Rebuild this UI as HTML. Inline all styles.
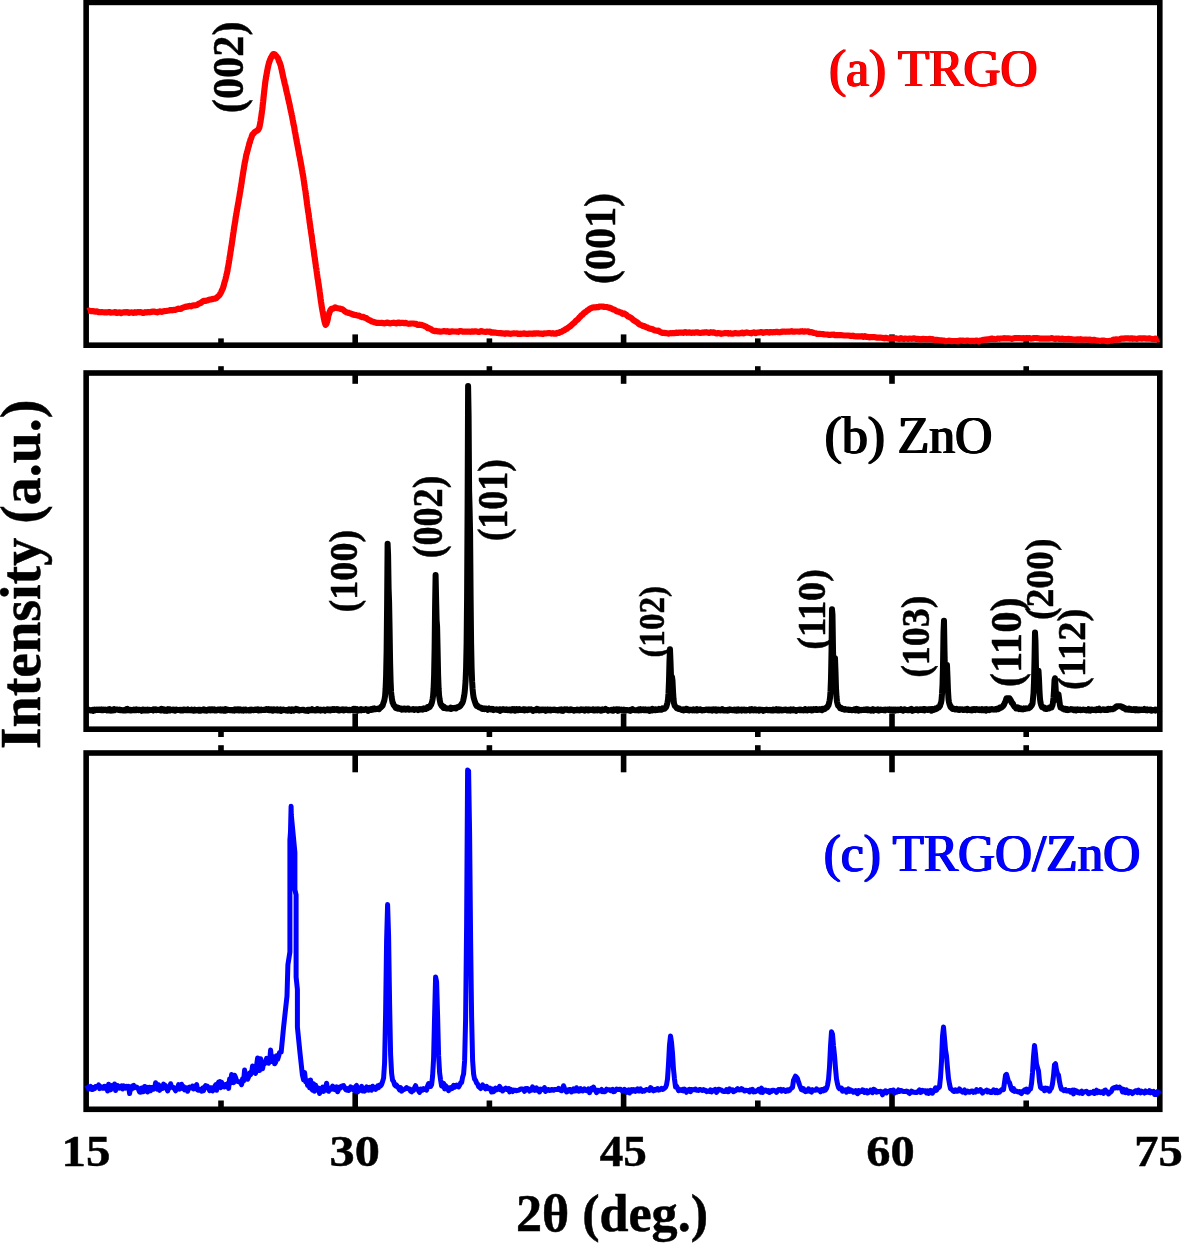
<!DOCTYPE html>
<html><head><meta charset="utf-8"><title>XRD patterns</title>
<style>
html,body{margin:0;padding:0;background:#fff;}
body{width:1182px;height:1243px;overflow:hidden;font-family:"Liberation Serif",serif;}
svg{display:block;will-change:transform;}
</style></head><body>
<svg width="1182" height="1243" viewBox="0 0 1182 1243">
<rect width="1182" height="1243" fill="#fff"/>
<rect x="86.15" y="2.40" width="1073.65" height="342.80" fill="none" stroke="#000" stroke-width="5.6"/>
<rect x="86.15" y="373.00" width="1073.65" height="356.20" fill="none" stroke="#000" stroke-width="5.6"/>
<rect x="86.15" y="753.00" width="1073.65" height="356.30" fill="none" stroke="#000" stroke-width="5.6"/>
<rect x="352.4" y="334.4" width="5.6" height="10.8" fill="#000"/>
<rect x="352.4" y="373.0" width="5.6" height="10.8" fill="#000"/>
<rect x="352.4" y="713.4" width="5.6" height="15.8" fill="#000"/>
<rect x="352.4" y="753.0" width="5.6" height="19.3" fill="#000"/>
<rect x="352.4" y="1092.5" width="5.6" height="16.8" fill="#000"/>
<rect x="620.8" y="334.4" width="5.6" height="10.8" fill="#000"/>
<rect x="620.8" y="373.0" width="5.6" height="10.8" fill="#000"/>
<rect x="620.8" y="713.4" width="5.6" height="15.8" fill="#000"/>
<rect x="620.8" y="753.0" width="5.6" height="19.3" fill="#000"/>
<rect x="620.8" y="1092.5" width="5.6" height="16.8" fill="#000"/>
<rect x="889.2" y="334.4" width="5.6" height="10.8" fill="#000"/>
<rect x="889.2" y="373.0" width="5.6" height="10.8" fill="#000"/>
<rect x="889.2" y="713.4" width="5.6" height="15.8" fill="#000"/>
<rect x="889.2" y="753.0" width="5.6" height="19.3" fill="#000"/>
<rect x="889.2" y="1092.5" width="5.6" height="16.8" fill="#000"/>
<rect x="218.2" y="338.4" width="5.6" height="6.8" fill="#000"/>
<rect x="218.2" y="366.2" width="5.6" height="6.8" fill="#000"/>
<rect x="218.2" y="729.2" width="5.6" height="7.8" fill="#000"/>
<rect x="218.2" y="745.2" width="5.6" height="7.8" fill="#000"/>
<rect x="218.2" y="1100.5" width="5.6" height="8.8" fill="#000"/>
<rect x="486.6" y="338.4" width="5.6" height="6.8" fill="#000"/>
<rect x="486.6" y="366.2" width="5.6" height="6.8" fill="#000"/>
<rect x="486.6" y="729.2" width="5.6" height="7.8" fill="#000"/>
<rect x="486.6" y="745.2" width="5.6" height="7.8" fill="#000"/>
<rect x="486.6" y="1100.5" width="5.6" height="8.8" fill="#000"/>
<rect x="755.0" y="338.4" width="5.6" height="6.8" fill="#000"/>
<rect x="755.0" y="366.2" width="5.6" height="6.8" fill="#000"/>
<rect x="755.0" y="729.2" width="5.6" height="7.8" fill="#000"/>
<rect x="755.0" y="745.2" width="5.6" height="7.8" fill="#000"/>
<rect x="755.0" y="1100.5" width="5.6" height="8.8" fill="#000"/>
<rect x="1023.4" y="338.4" width="5.6" height="6.8" fill="#000"/>
<rect x="1023.4" y="366.2" width="5.6" height="6.8" fill="#000"/>
<rect x="1023.4" y="729.2" width="5.6" height="7.8" fill="#000"/>
<rect x="1023.4" y="745.2" width="5.6" height="7.8" fill="#000"/>
<rect x="1023.4" y="1100.5" width="5.6" height="8.8" fill="#000"/>
<polyline points="87.7,310.9 88.6,310.5 89.8,310.8 91.3,311.1 92.7,311.0 94.2,311.4 95.7,311.6 97.2,311.4 98.7,312.2 100.2,312.2 101.7,312.0 103.2,312.2 104.7,312.4 106.2,312.3 107.7,312.3 109.2,312.0 110.7,312.6 112.2,312.5 113.7,312.5 115.2,312.1 116.7,312.9 118.2,312.6 119.7,312.4 121.2,313.1 122.7,312.6 124.2,312.2 125.7,312.5 127.2,312.0 128.7,312.9 130.2,312.5 131.7,312.4 133.2,312.9 134.7,312.2 136.2,312.7 137.7,312.0 139.2,312.3 140.7,312.1 142.2,312.8 143.7,312.8 145.2,312.2 146.7,312.5 148.2,312.1 149.7,312.3 151.2,311.9 152.7,311.6 154.2,311.5 155.7,311.9 157.2,312.3 158.7,311.7 160.2,311.4 161.7,311.9 163.2,311.3 164.7,311.1 166.2,311.0 167.6,310.7 169.1,310.5 170.6,310.0 172.1,310.3 173.6,309.9 175.1,310.0 176.5,309.4 178.0,308.7 179.4,308.8 180.9,308.8 182.3,307.9 183.8,307.4 185.2,306.9 186.7,306.6 188.2,306.4 189.6,305.9 191.1,306.3 192.6,305.5 194.1,305.3 195.5,305.3 196.9,304.9 198.3,303.9 199.6,303.4 201.0,302.8 202.3,301.8 203.7,300.8 205.1,300.9 206.5,300.6 208.0,300.2 209.5,299.6 210.9,299.5 212.4,299.1 213.8,298.8 215.2,298.6 216.5,297.9 217.7,296.8 218.8,295.8 219.7,294.7 220.5,293.4 221.2,292.1 221.8,290.5 222.4,289.3 222.9,288.4 223.4,286.6 223.9,284.8 224.3,283.3 224.7,281.8 225.1,280.7 225.5,279.2 225.9,277.3 226.2,276.3 226.5,274.6 226.9,273.6 227.2,271.8 227.5,270.8 227.7,268.7 228.0,267.3 228.3,266.0 228.5,264.7 228.8,263.1 229.0,261.2 229.3,260.0 229.5,258.5 229.7,256.9 230.0,255.4 230.2,254.5 230.4,252.5 230.7,250.9 230.9,249.8 231.1,248.2 231.3,246.6 231.6,245.4 231.8,243.8 232.0,242.3 232.2,241.0 232.5,239.3 232.7,237.6 232.9,236.2 233.1,234.6 233.3,233.3 233.6,231.5 233.8,229.9 234.0,228.9 234.2,227.0 234.5,225.4 234.7,224.5 234.9,222.7 235.2,221.6 235.4,219.8 235.6,218.2 235.9,216.7 236.1,215.4 236.4,214.0 236.6,212.3 236.9,211.0 237.1,209.2 237.4,208.1 237.6,206.2 237.9,205.1 238.1,203.8 238.4,202.5 238.6,201.1 238.9,198.8 239.1,197.9 239.4,196.6 239.6,195.0 239.9,193.1 240.1,191.9 240.4,190.8 240.6,188.5 240.9,187.5 241.1,186.2 241.3,184.3 241.6,183.1 241.8,181.2 242.0,179.8 242.2,178.3 242.5,177.1 242.7,175.5 242.9,174.3 243.2,172.3 243.4,171.1 243.6,169.8 243.9,168.3 244.1,166.3 244.4,165.3 244.6,163.6 244.9,162.3 245.2,160.8 245.5,159.6 245.8,157.8 246.1,155.9 246.4,154.5 246.8,153.6 247.1,151.9 247.5,150.8 247.9,149.1 248.3,147.4 248.7,146.4 249.1,144.5 249.5,142.7 249.9,142.3 250.4,139.8 250.9,138.9 251.4,137.5 251.9,135.9 252.6,134.2 253.4,133.8 254.5,132.2 255.6,131.4 256.8,130.8 257.8,130.2 258.6,129.0 259.2,128.0 259.6,126.3 259.9,124.9 260.2,123.1 260.5,121.8 260.7,120.4 260.9,118.6 261.2,117.3 261.4,115.5 261.6,114.0 261.8,112.7 262.0,111.2 262.2,109.9 262.4,108.3 262.6,107.2 262.7,105.2 262.9,103.7 263.1,102.0 263.2,100.8 263.4,99.4 263.5,97.6 263.7,96.3 263.8,95.0 264.0,93.3 264.2,91.7 264.3,90.5 264.5,88.8 264.7,87.4 264.8,86.1 265.0,84.6 265.2,82.8 265.4,81.2 265.6,80.0 265.9,78.4 266.1,76.5 266.4,75.8 266.6,74.0 266.9,72.7 267.2,70.7 267.4,69.8 267.8,67.8 268.1,66.5 268.5,64.7 268.8,63.6 269.3,62.1 269.7,60.7 270.3,59.4 270.9,57.8 271.7,56.6 272.5,55.0 273.3,54.1 274.2,54.1 275.1,54.7 276.0,55.7 276.9,56.9 277.7,57.7 278.5,59.7 279.1,61.5 279.7,62.6 280.1,63.8 280.6,65.4 281.0,66.6 281.3,68.4 281.7,69.7 282.0,71.5 282.3,72.8 282.6,74.0 282.9,75.8 283.3,77.4 283.6,78.5 283.9,80.0 284.2,81.0 284.6,83.3 284.9,84.4 285.3,85.4 285.6,87.0 286.0,88.8 286.3,90.5 286.7,91.8 287.0,93.4 287.3,94.4 287.7,95.9 288.0,97.9 288.3,99.2 288.7,100.6 289.0,102.4 289.3,103.3 289.7,104.9 290.0,106.7 290.3,108.4 290.6,109.4 290.9,111.3 291.2,112.1 291.5,113.9 291.8,115.2 292.1,116.3 292.4,118.2 292.7,119.9 293.0,121.1 293.2,122.6 293.5,124.4 293.8,125.2 294.1,126.6 294.4,128.3 294.6,129.7 294.9,131.8 295.2,133.0 295.5,134.2 295.7,135.7 296.0,138.1 296.3,138.7 296.5,140.1 296.8,141.8 297.1,143.4 297.4,144.8 297.6,146.0 297.9,147.4 298.2,149.3 298.5,150.6 298.7,151.7 299.0,153.9 299.3,155.2 299.6,156.5 299.9,157.9 300.1,159.5 300.4,160.8 300.7,162.1 300.9,164.0 301.2,165.0 301.5,166.9 301.7,168.0 302.0,169.8 302.3,171.2 302.5,173.2 302.8,174.0 303.0,175.4 303.3,177.0 303.5,178.4 303.7,180.0 304.0,181.7 304.2,183.3 304.4,185.0 304.6,185.9 304.9,188.2 305.1,189.5 305.3,190.5 305.5,191.4 305.7,193.5 305.9,195.0 306.1,195.9 306.3,198.0 306.5,199.4 306.7,200.7 306.9,202.6 307.1,204.2 307.3,205.3 307.5,206.9 307.7,208.2 307.9,209.7 308.1,211.4 308.4,213.0 308.6,214.2 308.8,215.2 309.0,217.4 309.2,218.4 309.4,220.3 309.6,222.2 309.8,223.2 310.0,224.4 310.2,225.8 310.4,228.0 310.7,229.2 310.9,230.8 311.1,232.4 311.3,233.6 311.5,235.0 311.7,236.4 311.9,237.3 312.1,239.2 312.3,241.0 312.5,242.5 312.8,244.1 313.0,245.5 313.2,247.0 313.4,248.7 313.6,249.7 313.8,251.4 314.0,252.5 314.2,254.7 314.4,255.9 314.7,257.5 314.9,259.3 315.1,260.6 315.3,261.8 315.5,263.5 315.7,264.5 315.9,266.4 316.1,267.8 316.4,268.9 316.6,271.1 316.8,272.1 317.0,273.9 317.2,275.1 317.4,276.9 317.6,278.5 317.9,279.4 318.1,280.8 318.3,282.6 318.5,284.3 318.7,285.5 319.0,286.9 319.2,288.7 319.4,289.4 319.6,291.4 319.8,292.7 320.0,294.6 320.2,295.8 320.4,297.2 320.6,298.9 320.8,300.1 321.0,301.9 321.3,303.3 321.5,304.8 321.7,306.2 322.0,308.1 322.2,309.3 322.5,311.0 322.8,312.5 323.1,313.8 323.4,315.8 323.7,317.6 324.1,319.3 324.4,320.9 324.8,322.3 325.2,323.8 325.6,324.8 326.0,324.1 326.4,324.1 326.7,322.9 327.1,321.9 327.5,320.2 327.9,318.6 328.3,315.8 328.8,314.6 329.3,312.8 329.9,311.4 330.6,309.9 331.4,309.0 332.4,308.6 333.7,308.6 335.1,307.3 336.6,308.0 338.1,308.3 339.5,308.5 340.9,308.9 342.2,309.3 343.6,310.1 344.9,311.4 346.2,312.2 347.6,312.6 349.0,312.9 350.4,313.6 351.8,314.0 353.3,314.6 354.7,314.9 356.2,315.1 357.7,315.6 359.1,315.7 360.6,316.6 362.0,317.1 363.4,316.9 364.9,317.8 366.3,318.1 367.6,319.3 369.0,320.0 370.3,320.4 371.7,321.5 373.1,321.8 374.4,322.2 375.8,322.6 377.2,322.9 378.7,322.9 380.1,323.0 381.6,322.8 383.1,323.2 384.6,323.3 386.1,322.9 387.6,322.6 389.1,323.2 390.6,323.3 392.1,323.0 393.7,322.7 395.2,323.1 396.7,323.4 398.2,322.5 399.7,323.1 401.2,322.9 402.7,322.8 404.2,323.2 405.7,322.9 407.3,323.4 408.8,323.8 410.3,323.6 411.8,323.5 413.3,323.5 414.8,323.8 416.2,323.9 417.7,324.9 419.2,324.7 420.6,324.8 422.1,325.1 423.5,325.6 424.9,326.3 426.3,326.7 427.7,328.1 429.1,328.2 430.5,328.9 431.8,329.8 433.2,330.7 434.6,331.1 436.1,330.9 437.5,331.3 438.9,331.4 440.4,331.6 441.8,331.5 443.3,331.2 444.8,331.2 446.2,331.6 447.7,331.2 449.2,331.9 450.7,331.6 452.2,331.3 453.7,331.5 455.2,331.5 456.7,331.6 458.2,331.8 459.7,331.2 461.2,331.1 462.7,331.7 464.3,331.6 465.8,331.7 467.3,331.7 468.8,331.6 470.3,331.8 471.8,331.4 473.4,331.7 474.9,331.4 476.4,331.4 477.9,331.8 479.4,331.8 480.9,331.2 482.5,331.4 484.0,331.8 485.5,332.0 487.0,331.6 488.5,331.8 490.0,331.6 491.5,332.7 492.9,332.3 494.4,332.6 495.9,332.7 497.4,333.0 498.9,333.1 500.4,333.0 501.9,333.5 503.4,333.4 504.9,333.8 506.4,333.3 507.9,333.4 509.4,333.7 510.9,333.8 512.4,333.5 513.9,333.3 515.4,333.5 516.9,333.4 518.4,334.0 520.0,333.7 521.5,333.8 523.0,333.6 524.5,333.4 526.0,333.8 527.5,333.9 529.1,333.6 530.6,333.5 532.1,333.8 533.6,333.4 535.1,333.7 536.6,333.3 538.1,333.3 539.6,333.6 541.1,333.6 542.6,334.0 544.1,333.4 545.6,333.5 547.1,333.2 548.5,333.0 550.0,333.1 551.5,333.6 552.9,333.2 554.4,333.7 555.8,333.6 557.3,332.9 558.7,332.9 560.2,332.1 561.6,331.7 563.0,330.7 564.3,330.3 565.6,329.2 566.8,328.8 568.1,327.7 569.2,326.9 570.4,326.1 571.6,325.0 572.7,323.9 573.8,323.1 575.0,322.1 576.1,320.5 577.2,320.0 578.3,318.9 579.4,317.5 580.4,316.7 581.5,315.2 582.6,314.8 583.6,313.4 584.8,312.4 585.9,311.9 587.2,310.6 588.4,310.0 589.7,308.8 591.1,308.2 592.5,307.5 593.9,307.3 595.3,307.4 596.8,307.0 598.3,307.1 599.8,306.5 601.3,306.5 602.8,306.6 604.3,306.9 605.8,307.0 607.2,307.1 608.6,307.6 610.0,307.9 611.5,308.5 612.9,309.4 614.2,309.6 615.6,310.4 617.0,311.4 618.4,311.6 619.8,312.3 621.2,312.6 622.6,313.8 624.0,313.4 625.3,314.3 626.6,315.0 627.9,316.4 629.2,316.9 630.4,317.6 631.6,318.2 632.8,319.6 634.0,320.4 635.2,321.2 636.4,321.9 637.7,322.8 638.9,324.0 640.2,324.7 641.5,325.3 642.8,325.9 644.2,326.1 645.6,327.1 647.0,327.3 648.4,328.1 649.9,328.7 651.3,328.9 652.8,329.3 654.2,330.2 655.6,330.5 657.1,330.8 658.5,330.7 660.0,331.9 661.4,332.5 662.9,333.0 664.3,332.9 665.8,333.1 667.3,333.3 668.7,333.6 670.2,333.1 671.7,333.3 673.2,333.0 674.7,333.2 676.2,332.6 677.7,333.0 679.2,332.6 680.7,332.6 682.2,332.7 683.7,332.8 685.2,332.1 686.7,332.8 688.2,332.6 689.7,332.4 691.2,332.9 692.7,332.5 694.2,332.8 695.7,332.4 697.2,332.3 698.7,332.8 700.2,333.0 701.7,332.7 703.2,332.7 704.7,332.4 706.2,332.2 707.7,332.5 709.2,332.9 710.7,332.2 712.2,332.6 713.7,332.4 715.2,333.0 716.7,333.4 718.2,333.0 719.7,333.3 721.2,333.8 722.7,333.5 724.2,333.2 725.7,333.2 727.2,333.0 728.7,333.6 730.2,333.2 731.7,333.7 733.2,333.6 734.7,333.2 736.2,333.2 737.7,333.5 739.2,333.3 740.7,333.2 742.2,332.7 743.7,333.3 745.2,332.8 746.7,332.4 748.2,332.8 749.7,333.0 751.2,333.3 752.7,332.7 754.2,332.4 755.7,333.2 757.2,332.6 758.7,332.5 760.2,332.2 761.7,332.2 763.2,332.8 764.7,332.3 766.2,332.2 767.7,332.1 769.2,332.6 770.7,332.0 772.2,332.3 773.7,332.2 775.2,332.1 776.7,331.8 778.2,332.1 779.7,332.3 781.2,331.9 782.7,331.6 784.2,331.5 785.7,331.8 787.2,331.6 788.7,331.6 790.2,331.6 791.7,331.2 793.2,331.7 794.7,331.6 796.2,331.5 797.7,331.5 799.2,331.7 800.7,331.4 802.2,331.2 803.6,331.7 805.1,331.4 806.6,331.5 808.1,331.4 809.6,332.1 811.1,332.1 812.5,332.5 814.0,333.0 815.5,333.2 817.0,333.8 818.5,333.8 819.9,333.9 821.4,334.0 822.9,334.1 824.4,334.5 825.9,334.5 827.4,334.5 828.9,334.9 830.4,334.8 831.9,334.7 833.4,334.5 834.9,335.1 836.4,335.1 837.9,335.2 839.4,335.1 840.9,335.1 842.4,335.3 843.9,335.5 845.4,335.5 846.9,335.5 848.4,335.5 849.9,335.8 851.4,335.9 852.9,335.7 854.4,336.2 855.9,336.3 857.4,336.4 858.9,336.3 860.4,336.4 861.9,336.2 863.4,336.8 864.9,336.2 866.4,336.8 867.9,336.9 869.3,337.3 870.8,337.2 872.3,337.1 873.8,337.0 875.3,337.3 876.8,337.6 878.3,337.7 879.8,337.7 881.3,337.7 882.8,337.9 884.3,338.3 885.8,337.8 887.3,338.2 888.8,338.6 890.3,338.4 891.8,338.2 893.3,338.5 894.8,338.2 896.3,338.4 897.8,338.8 899.3,339.0 900.8,338.1 902.3,338.7 903.8,339.1 905.3,338.5 906.8,338.7 908.3,339.0 909.8,338.6 911.3,338.8 912.8,338.7 914.3,338.3 915.8,338.9 917.3,338.8 918.8,339.1 920.3,339.4 921.8,339.1 923.3,338.9 924.8,339.2 926.3,339.1 927.8,339.4 929.3,338.9 930.8,339.1 932.3,339.0 933.8,339.8 935.3,339.8 936.8,339.9 938.3,340.1 939.7,340.3 941.2,340.4 942.7,340.6 944.2,340.7 945.7,341.2 947.2,341.0 948.7,340.7 950.2,340.8 951.7,341.2 953.2,341.0 954.7,341.0 956.2,341.1 957.7,341.3 959.3,340.6 960.8,340.7 962.3,340.5 963.8,341.0 965.3,340.8 966.8,340.7 968.3,340.7 969.8,341.1 971.3,340.9 972.8,340.8 974.3,341.2 975.8,340.6 977.2,340.6 978.7,341.5 980.2,340.6 981.7,340.3 983.1,339.9 984.6,339.7 986.0,339.6 987.5,339.4 989.0,339.2 990.4,338.9 991.9,338.5 993.4,338.9 994.9,339.2 996.4,339.0 997.9,338.6 999.4,338.8 1000.9,338.5 1002.4,338.5 1003.9,338.2 1005.4,338.3 1006.9,338.4 1008.4,338.3 1009.9,338.5 1011.4,338.8 1013.0,338.6 1014.5,338.2 1016.0,338.1 1017.5,338.1 1019.0,338.0 1020.5,338.2 1022.0,338.3 1023.5,338.2 1025.0,338.3 1026.5,338.2 1028.0,338.2 1029.5,338.0 1031.0,338.7 1032.5,338.5 1034.0,338.0 1035.5,338.0 1037.0,338.1 1038.5,338.3 1040.0,338.6 1041.5,338.6 1043.0,338.6 1044.5,338.7 1046.0,338.7 1047.5,338.6 1049.0,338.6 1050.5,338.5 1052.0,338.1 1053.5,338.6 1055.0,339.1 1056.5,338.5 1058.0,338.5 1059.5,339.0 1061.0,338.8 1062.5,338.7 1064.0,339.3 1065.5,339.1 1067.0,339.2 1068.5,338.9 1070.0,339.2 1071.5,339.2 1073.0,339.4 1074.5,339.5 1076.0,339.6 1077.5,339.4 1079.0,339.6 1080.5,339.2 1082.0,339.7 1083.5,339.7 1085.0,339.5 1086.5,339.5 1088.0,339.7 1089.5,339.5 1091.0,340.0 1092.5,340.1 1094.0,339.8 1095.5,340.2 1097.0,340.6 1098.5,340.7 1100.0,340.9 1101.4,340.7 1102.9,340.7 1104.4,340.7 1105.9,341.0 1107.4,341.3 1108.9,341.0 1110.4,340.8 1111.9,340.6 1113.4,339.6 1114.9,339.7 1116.3,339.4 1117.8,339.6 1119.3,339.5 1120.8,338.7 1122.3,338.7 1123.8,338.7 1125.3,338.4 1126.8,338.4 1128.3,338.3 1129.8,338.7 1131.3,338.3 1132.8,338.8 1134.3,338.5 1135.8,338.7 1137.3,338.9 1138.8,338.4 1140.3,338.4 1141.8,338.7 1143.3,338.3 1144.8,338.4 1146.3,338.6 1147.8,338.7 1149.3,338.4 1150.8,338.7 1152.3,339.0 1153.8,339.2 1155.3,338.5 1156.8,339.4 1158.0,339.3 1158.9,338.9" fill="none" stroke="#f00" stroke-width="6.2" stroke-linejoin="round" stroke-linecap="butt"/>
<polyline points="86.6,709.5 87.1,710.1 87.6,709.8 88.1,710.0 88.6,710.3 89.1,709.9 89.6,710.1 90.1,710.2 90.6,710.3 91.1,710.6 91.6,710.6 92.1,710.1 92.6,709.9 93.1,710.8 93.6,710.2 94.1,710.1 94.6,709.6 95.1,710.3 95.6,709.7 96.1,709.8 96.6,709.5 97.1,709.8 97.6,710.0 98.1,709.5 98.6,709.7 99.1,710.0 99.6,709.6 100.1,709.6 100.6,709.7 101.1,709.5 101.6,710.2 102.1,709.6 102.6,710.3 103.1,710.3 103.6,709.6 104.1,710.0 104.6,709.8 105.1,709.6 105.6,709.9 106.1,709.9 106.6,710.2 107.1,710.4 107.6,709.6 108.1,709.9 108.6,710.2 109.1,710.4 109.6,709.1 110.1,710.4 110.6,709.9 111.1,710.5 111.6,709.8 112.1,709.7 112.6,710.0 113.1,710.4 113.6,710.0 114.1,709.2 114.6,710.2 115.1,709.4 115.6,709.7 116.1,709.6 116.6,709.4 117.1,709.6 117.6,709.6 118.1,709.8 118.6,710.0 119.1,709.9 119.6,709.5 120.1,709.9 120.6,710.3 121.1,710.3 121.6,710.0 122.1,710.2 122.6,710.3 123.1,710.5 123.6,710.6 124.1,709.9 124.6,709.9 125.1,710.5 125.6,710.5 126.1,710.5 126.6,709.2 127.1,709.9 127.6,708.9 128.1,710.2 128.6,710.0 129.1,710.0 129.6,709.9 130.1,710.4 130.6,709.9 131.1,710.4 131.6,710.2 132.1,710.1 132.6,710.2 133.1,710.0 133.6,709.6 134.1,710.2 134.6,710.2 135.1,709.9 135.6,710.2 136.1,710.3 136.6,709.5 137.1,709.9 137.6,709.8 138.1,709.7 138.6,710.1 139.1,709.7 139.6,709.8 140.1,710.1 140.6,710.1 141.1,710.1 141.6,710.8 142.1,709.8 142.6,710.1 143.1,709.6 143.6,710.2 144.1,710.4 144.6,710.4 145.1,709.8 145.6,709.9 146.1,710.4 146.6,710.0 147.1,710.3 147.6,709.7 148.1,710.5 148.6,710.4 149.1,710.2 149.6,709.7 150.1,709.9 150.6,710.0 151.1,710.1 151.6,710.0 152.1,709.9 152.6,710.1 153.1,710.5 153.6,709.3 154.1,709.5 154.6,709.5 155.1,709.8 155.6,709.4 156.1,710.2 156.6,710.0 157.1,709.9 157.6,709.8 158.1,710.0 158.6,710.1 159.1,710.1 159.6,709.7 160.1,710.2 160.6,709.5 161.1,710.4 161.6,708.9 162.1,709.8 162.6,709.6 163.1,710.3 163.6,709.5 164.1,710.6 164.6,709.5 165.1,710.7 165.6,710.1 166.1,710.0 166.6,710.1 167.1,710.8 167.6,710.3 168.1,709.2 168.6,710.4 169.1,710.1 169.6,709.4 170.1,710.3 170.6,709.6 171.1,710.1 171.6,710.1 172.1,709.8 172.6,710.2 173.1,709.6 173.6,710.1 174.1,709.8 174.6,709.9 175.1,710.7 175.6,710.0 176.1,709.6 176.6,709.9 177.1,709.7 177.6,710.0 178.1,710.0 178.6,710.0 179.1,710.0 179.6,709.8 180.1,710.1 180.6,710.4 181.1,709.8 181.6,710.0 182.1,710.0 182.6,710.4 183.1,710.4 183.6,709.7 184.1,710.0 184.6,709.5 185.1,709.7 185.6,710.0 186.1,710.2 186.6,710.3 187.1,709.9 187.6,709.5 188.1,710.1 188.6,709.9 189.1,710.1 189.6,710.0 190.1,710.2 190.6,710.2 191.1,710.3 191.6,709.8 192.1,710.3 192.6,709.8 193.1,710.0 193.6,710.6 194.1,710.1 194.6,709.6 195.1,710.5 195.6,710.3 196.1,710.4 196.6,710.1 197.1,710.1 197.6,709.9 198.1,709.7 198.6,710.5 199.1,709.9 199.6,709.8 200.1,709.8 200.6,710.6 201.1,710.3 201.6,709.9 202.1,710.0 202.6,710.2 203.1,710.3 203.6,709.4 204.1,710.3 204.6,709.9 205.1,709.7 205.6,709.9 206.1,710.3 206.6,710.6 207.1,710.0 207.6,710.2 208.1,709.7 208.6,710.2 209.1,710.3 209.6,709.5 210.1,709.8 210.6,710.3 211.1,709.4 211.6,709.9 212.1,710.2 212.6,709.4 213.1,709.8 213.6,710.0 214.1,710.3 214.6,709.5 215.1,710.4 215.6,710.1 216.1,710.4 216.6,710.4 217.1,710.1 217.6,710.2 218.1,709.4 218.6,709.5 219.1,709.6 219.6,709.9 220.1,710.3 220.6,709.4 221.1,709.9 221.6,709.5 222.1,709.4 222.6,710.5 223.1,710.0 223.6,710.6 224.1,710.4 224.6,709.7 225.1,709.3 225.6,710.7 226.1,709.8 226.6,709.6 227.1,710.2 227.6,710.0 228.1,709.8 228.6,709.9 229.1,710.0 229.6,710.0 230.1,710.2 230.6,709.9 231.1,709.9 231.6,710.2 232.1,710.1 232.6,710.4 233.1,709.9 233.6,710.0 234.1,709.6 234.6,710.5 235.1,709.5 235.6,710.1 236.1,709.7 236.6,710.1 237.1,710.2 237.6,709.4 238.1,709.9 238.6,709.4 239.1,710.5 239.6,709.8 240.1,709.4 240.6,709.7 241.1,710.4 241.6,710.5 242.1,710.4 242.6,709.7 243.1,709.9 243.6,710.6 244.1,709.7 244.6,709.9 245.1,709.6 245.6,709.6 246.1,710.4 246.6,710.2 247.1,710.1 247.6,710.2 248.1,710.3 248.6,710.5 249.1,710.0 249.6,709.9 250.1,709.6 250.6,710.4 251.1,709.8 251.6,709.5 252.1,709.9 252.6,710.0 253.1,710.3 253.6,710.3 254.1,709.7 254.6,709.7 255.1,709.9 255.6,709.6 256.1,709.9 256.6,710.1 257.1,710.0 257.6,709.4 258.1,709.6 258.6,710.4 259.1,709.6 259.6,710.2 260.1,710.2 260.6,709.9 261.1,709.6 261.6,710.1 262.1,709.7 262.6,709.9 263.1,710.0 263.6,709.7 264.1,709.9 264.6,709.9 265.1,709.5 265.6,709.9 266.1,709.8 266.6,709.3 267.1,709.9 267.6,709.9 268.1,709.8 268.6,709.3 269.1,710.2 269.6,710.2 270.1,710.2 270.6,710.1 271.1,709.5 271.6,710.0 272.1,709.7 272.6,710.7 273.1,709.8 273.6,710.2 274.1,709.4 274.6,709.6 275.1,709.8 275.6,710.2 276.1,710.2 276.6,710.1 277.1,709.3 277.6,710.4 278.1,709.7 278.6,710.5 279.1,710.6 279.6,710.3 280.1,710.3 280.6,709.5 281.1,710.9 281.6,710.0 282.1,710.3 282.6,709.7 283.1,709.9 283.6,709.6 284.1,709.9 284.6,710.0 285.1,710.1 285.6,710.5 286.1,710.1 286.6,710.1 287.1,710.0 287.6,710.7 288.1,709.8 288.6,710.4 289.1,709.3 289.6,709.7 290.1,710.1 290.6,709.9 291.1,711.0 291.6,710.9 292.1,709.4 292.6,709.6 293.1,709.9 293.6,710.6 294.1,710.4 294.6,710.1 295.1,709.5 295.6,709.7 296.1,709.0 296.6,709.4 297.1,710.1 297.6,710.2 298.1,709.5 298.6,710.0 299.1,710.5 299.6,710.0 300.1,709.9 300.6,710.2 301.1,710.1 301.6,710.0 302.1,709.8 302.6,709.8 303.1,710.0 303.6,709.8 304.1,710.4 304.6,710.3 305.1,710.3 305.6,710.7 306.1,710.5 306.6,710.5 307.1,710.1 307.6,709.9 308.1,710.8 308.6,709.7 309.1,709.7 309.6,709.7 310.1,710.0 310.6,710.1 311.1,710.3 311.6,709.9 312.1,709.3 312.6,710.1 313.1,710.3 313.6,710.0 314.1,709.9 314.6,710.2 315.1,710.5 315.6,709.9 316.1,709.5 316.6,709.8 317.1,709.9 317.6,709.3 318.1,710.2 318.6,709.7 319.1,710.1 319.6,710.0 320.1,709.8 320.6,710.5 321.1,709.7 321.6,709.7 322.1,710.0 322.6,710.2 323.1,709.9 323.6,709.6 324.1,710.2 324.6,710.2 325.1,710.7 325.6,709.9 326.1,710.0 326.6,709.7 327.1,709.4 327.6,710.0 328.1,710.2 328.6,709.6 329.1,709.7 329.6,709.5 330.1,710.4 330.6,709.7 331.1,710.1 331.6,709.6 332.1,710.0 332.6,709.7 333.1,709.1 333.6,710.0 334.1,710.1 334.6,709.2 335.1,709.9 335.6,709.8 336.1,709.5 336.6,709.8 337.1,709.2 337.6,710.0 338.1,710.3 338.6,709.5 339.1,709.9 339.6,710.4 340.1,709.9 340.6,709.7 341.1,709.6 341.6,710.0 342.1,709.9 342.6,710.1 343.1,709.4 343.6,710.3 344.1,709.8 344.6,710.1 345.1,709.6 345.6,709.4 346.1,709.7 346.6,709.5 347.1,709.7 347.6,710.1 348.1,710.3 348.6,709.9 349.1,709.7 349.6,709.7 350.1,710.1 350.6,710.3 351.1,709.7 351.6,709.8 352.1,709.6 352.6,709.9 353.1,710.2 353.6,708.8 354.1,709.9 354.6,709.6 355.1,709.0 355.6,709.9 356.1,709.8 356.6,709.9 357.1,709.3 357.6,710.6 358.1,709.8 358.6,709.7 359.1,710.3 359.6,710.0 360.1,710.1 360.6,710.2 361.1,709.0 361.6,710.3 362.1,709.6 362.6,709.8 363.1,710.0 363.6,709.5 364.1,709.8 364.6,710.0 365.1,709.7 365.6,709.8 366.1,709.1 366.6,709.2 367.1,709.2 367.6,709.7 368.1,710.9 368.6,709.7 369.1,709.5 369.6,709.5 370.1,709.9 370.6,709.7 371.1,709.1 371.6,709.8 372.1,709.4 372.6,709.6 373.1,708.6 373.6,708.7 374.1,709.4 374.6,708.5 375.1,709.2 375.6,709.2 376.1,709.0 376.6,709.0 377.1,708.9 377.6,708.8 378.1,708.4 378.6,708.4 379.1,709.2 379.6,708.4 380.1,708.0 380.6,707.6 381.1,706.8 381.6,706.7 382.1,706.0 382.6,705.7 383.1,704.0 383.6,702.3 384.1,701.1 384.6,698.9 385.1,695.6 385.6,688.5 386.1,675.7 386.6,651.7 387.1,605.2 387.6,543.7 388.1,555.2 388.6,588.4 389.1,602.0 389.6,629.9 390.1,662.1 390.6,681.4 391.1,692.0 391.6,696.8 392.1,699.9 392.6,702.6 393.1,703.2 393.6,705.1 394.1,705.4 394.6,706.1 395.1,706.9 395.6,707.8 396.1,707.3 396.6,708.2 397.1,708.2 397.6,707.8 398.1,708.7 398.6,708.2 399.1,708.1 399.6,708.5 400.1,708.6 400.6,709.1 401.1,708.7 401.6,709.6 402.1,709.2 402.6,708.9 403.1,708.9 403.6,709.3 404.1,708.5 404.6,708.5 405.1,709.0 405.6,709.6 406.1,709.4 406.6,709.4 407.1,709.3 407.6,708.6 408.1,709.3 408.6,708.8 409.1,709.7 409.6,709.4 410.1,709.4 410.6,709.6 411.1,709.6 411.6,709.5 412.1,709.6 412.6,709.2 413.1,709.0 413.6,709.6 414.1,710.0 414.6,709.8 415.1,709.4 415.6,709.6 416.1,709.3 416.6,709.5 417.1,709.2 417.6,709.4 418.1,710.1 418.6,709.6 419.1,709.8 419.6,709.0 420.1,709.0 420.6,709.2 421.1,709.4 421.6,709.1 422.1,709.5 422.6,708.9 423.1,709.5 423.6,709.3 424.1,708.5 424.6,709.0 425.1,708.7 425.6,709.0 426.1,708.4 426.6,708.5 427.1,708.5 427.6,707.1 428.1,707.2 428.6,707.6 429.1,707.2 429.6,707.2 430.1,706.4 430.6,705.2 431.1,704.9 431.6,703.3 432.1,701.8 432.6,699.2 433.1,695.6 433.6,688.3 434.1,675.4 434.6,648.9 435.1,605.3 435.6,575.0 436.1,598.9 436.6,620.2 437.1,626.5 437.6,649.8 438.1,674.5 438.6,688.3 439.1,695.6 439.6,699.3 440.1,702.0 440.6,704.1 441.1,704.8 441.6,705.8 442.1,705.6 442.6,706.9 443.1,707.2 443.6,707.9 444.1,706.7 444.6,707.9 445.1,708.0 445.6,708.2 446.1,708.0 446.6,708.4 447.1,708.6 447.6,708.5 448.1,708.4 448.6,708.4 449.1,708.4 449.6,708.6 450.1,708.3 450.6,707.8 451.1,709.0 451.6,707.9 452.1,708.4 452.6,708.0 453.1,708.3 453.6,708.0 454.1,708.3 454.6,707.9 455.1,707.7 455.6,708.1 456.1,708.4 456.6,707.9 457.1,707.6 457.6,707.1 458.1,707.2 458.6,707.1 459.1,706.5 459.6,706.7 460.1,705.9 460.6,705.6 461.1,704.7 461.6,704.0 462.1,703.4 462.6,702.4 463.1,700.9 463.6,698.6 464.1,696.2 464.6,692.9 465.1,687.2 465.6,680.5 466.1,667.5 466.6,643.7 467.1,596.0 467.6,505.9 468.1,386.0 468.6,415.7 469.1,490.6 469.6,509.3 470.1,533.1 470.6,595.9 471.1,642.8 471.6,667.9 472.1,681.2 472.6,689.0 473.1,694.0 473.6,697.3 474.1,699.2 474.6,700.8 475.1,702.3 475.6,703.8 476.1,704.8 476.6,705.8 477.1,705.3 477.6,706.2 478.1,706.5 478.6,706.8 479.1,707.3 479.6,707.4 480.1,707.6 480.6,707.6 481.1,708.2 481.6,708.5 482.1,708.9 482.6,708.2 483.1,708.2 483.6,708.5 484.1,708.4 484.6,709.1 485.1,708.6 485.6,708.9 486.1,708.5 486.6,708.9 487.1,709.1 487.6,709.7 488.1,708.9 488.6,709.3 489.1,708.5 489.6,708.8 490.1,709.0 490.6,709.2 491.1,709.5 491.6,709.6 492.1,708.8 492.6,709.6 493.1,709.1 493.6,710.1 494.1,709.6 494.6,709.6 495.1,709.5 495.6,709.5 496.1,709.6 496.6,709.3 497.1,709.8 497.6,709.7 498.1,709.9 498.6,709.6 499.1,709.9 499.6,709.4 500.1,710.9 500.6,709.4 501.1,709.5 501.6,710.0 502.1,710.1 502.6,709.4 503.1,709.1 503.6,709.2 504.1,709.4 504.6,709.4 505.1,709.7 505.6,710.1 506.1,710.1 506.6,709.5 507.1,709.9 507.6,710.1 508.1,710.2 508.6,709.7 509.1,709.5 509.6,710.0 510.1,710.3 510.6,709.6 511.1,710.5 511.6,710.4 512.0,709.7 512.5,709.2 513.0,709.6 513.5,709.7 514.0,710.0 514.5,709.2 515.0,710.7 515.5,710.6 516.0,709.6 516.5,709.2 517.0,709.8 517.5,710.0 518.0,710.3 518.5,710.1 519.0,709.8 519.5,709.1 520.0,710.0 520.5,710.1 521.0,709.7 521.5,709.9 522.0,709.9 522.5,709.8 523.0,709.4 523.5,710.0 524.0,709.4 524.5,710.3 525.0,709.5 525.5,710.0 526.0,709.6 526.5,710.0 527.0,709.8 527.5,710.1 528.0,709.6 528.5,709.3 529.0,709.8 529.5,709.7 530.0,709.3 530.5,709.6 531.0,709.3 531.5,709.9 532.0,709.7 532.5,709.9 533.0,710.8 533.5,709.9 534.0,710.0 534.5,710.1 535.0,709.8 535.5,709.7 536.0,710.2 536.5,710.2 537.0,708.9 537.5,709.8 538.0,709.8 538.5,709.7 539.0,710.3 539.5,709.7 540.0,710.2 540.5,709.7 541.0,709.8 541.5,710.2 542.0,709.6 542.5,709.8 543.0,709.5 543.5,709.6 544.0,710.2 544.5,710.1 545.0,709.5 545.5,709.5 546.0,710.8 546.5,709.7 547.0,709.6 547.5,710.1 548.0,709.6 548.5,709.8 549.0,710.2 549.5,710.3 550.0,709.8 550.5,710.4 551.0,709.9 551.5,709.8 552.0,709.9 552.5,709.8 553.0,710.1 553.5,710.0 554.0,709.6 554.5,710.0 555.0,709.7 555.5,709.7 556.0,709.9 556.5,710.3 557.0,710.0 557.5,710.4 558.0,710.5 558.5,709.9 559.0,709.7 559.5,709.6 560.0,710.0 560.5,710.2 561.0,710.5 561.5,709.5 562.0,710.2 562.5,710.3 563.0,710.8 563.5,710.0 564.0,709.9 564.5,709.4 565.0,709.7 565.5,709.5 566.0,709.6 566.5,709.6 567.0,709.4 567.5,709.9 568.0,710.1 568.5,710.2 569.0,709.9 569.5,710.3 570.0,710.3 570.5,709.4 571.0,709.8 571.5,709.5 572.0,709.6 572.5,710.0 573.0,709.9 573.5,710.4 574.0,710.6 574.5,710.1 575.0,709.9 575.5,709.9 576.0,709.9 576.5,710.1 577.0,709.7 577.5,710.1 578.0,709.8 578.5,710.3 579.0,710.4 579.5,710.5 580.0,709.9 580.5,709.5 581.0,709.3 581.5,709.8 582.0,709.4 582.5,709.4 583.0,709.8 583.5,709.6 584.0,710.2 584.5,710.6 585.0,709.9 585.5,710.0 586.0,709.4 586.5,710.0 587.0,709.7 587.5,709.6 588.0,709.3 588.5,710.5 589.0,709.4 589.5,709.5 590.0,709.9 590.5,710.0 591.0,710.0 591.5,710.0 592.0,709.6 592.5,710.2 593.0,710.0 593.5,709.4 594.0,710.5 594.5,709.8 595.0,710.3 595.5,709.4 596.0,709.5 596.5,709.7 597.0,709.7 597.5,710.3 598.0,709.4 598.5,710.0 599.0,709.6 599.5,710.1 600.0,710.0 600.5,709.8 601.0,710.7 601.5,709.9 602.0,710.3 602.5,709.5 603.0,709.9 603.5,710.0 604.0,710.0 604.5,709.8 605.0,709.7 605.5,708.9 606.0,709.7 606.5,709.6 607.0,709.9 607.5,710.2 608.0,710.7 608.5,710.1 609.0,710.3 609.5,710.2 610.0,710.2 610.5,710.2 611.0,709.9 611.5,709.8 612.0,710.1 612.5,710.6 613.0,710.2 613.5,710.5 614.0,709.5 614.5,710.0 615.0,710.1 615.5,710.1 616.0,709.5 616.5,709.3 617.0,709.2 617.5,709.8 618.0,710.8 618.5,710.0 619.0,709.5 619.5,710.1 620.0,709.8 620.5,710.0 621.0,709.8 621.5,709.5 622.0,709.8 622.5,710.2 623.0,710.1 623.5,710.4 624.0,709.6 624.5,710.3 625.0,710.0 625.5,710.0 626.0,710.4 626.5,709.9 627.0,710.0 627.5,710.2 628.0,710.2 628.5,710.2 629.0,710.4 629.5,710.1 630.0,709.8 630.5,710.8 631.0,709.9 631.5,710.1 632.0,709.7 632.5,709.2 633.0,709.7 633.5,710.0 634.0,710.1 634.5,710.0 635.0,710.2 635.5,710.3 636.0,710.3 636.5,709.9 637.0,710.0 637.5,709.9 638.0,709.6 638.5,710.4 639.0,709.5 639.5,709.9 640.0,710.0 640.5,709.2 641.0,710.2 641.5,709.8 642.0,710.0 642.5,709.8 643.0,709.4 643.5,710.0 644.0,709.9 644.5,710.3 645.0,710.1 645.5,709.3 646.0,710.3 646.5,710.2 647.0,710.2 647.5,710.1 648.0,709.6 648.5,710.1 649.0,709.7 649.5,710.9 650.0,709.8 650.5,709.5 651.0,709.7 651.5,710.3 652.0,709.6 652.5,709.0 653.0,710.3 653.5,709.9 654.0,709.6 654.5,710.0 655.0,709.4 655.5,709.3 656.0,710.0 656.5,709.5 657.0,709.8 657.5,709.6 658.0,709.9 658.5,709.6 659.0,708.8 659.5,709.7 660.0,709.3 660.5,709.7 661.0,709.4 661.5,709.7 662.0,709.0 662.5,708.3 663.0,708.8 663.5,708.9 664.0,708.4 664.5,708.1 665.0,708.5 665.5,707.5 666.0,707.3 666.5,706.1 667.0,704.3 667.5,702.5 668.0,699.4 668.5,693.2 669.0,680.4 669.5,660.2 670.0,649.3 670.5,661.6 671.0,675.8 671.5,679.2 672.0,676.9 672.5,680.6 673.0,690.9 673.5,698.6 674.0,703.2 674.5,705.1 675.0,706.1 675.5,706.5 676.0,707.0 676.5,707.9 677.0,708.3 677.5,708.0 678.0,708.3 678.5,708.9 679.0,708.3 679.5,708.6 680.0,709.2 680.5,709.5 681.0,709.5 681.5,709.8 682.0,710.1 682.5,709.9 683.0,709.5 683.5,710.4 684.0,710.2 684.5,710.0 685.0,709.4 685.5,709.9 686.0,709.0 686.5,709.6 687.0,708.9 687.5,709.6 688.0,710.2 688.5,709.8 689.0,710.4 689.5,709.8 690.0,709.9 690.5,709.7 691.0,710.0 691.5,709.8 692.0,710.3 692.5,710.4 693.0,710.0 693.5,709.5 694.0,710.1 694.5,710.4 695.0,710.1 695.5,710.0 696.0,710.2 696.5,710.4 697.0,709.0 697.5,710.4 698.0,710.2 698.5,710.1 699.0,709.7 699.5,710.0 700.0,710.1 700.5,709.4 701.0,710.2 701.5,710.0 702.0,710.5 702.5,710.2 703.0,709.9 703.5,710.0 704.0,710.2 704.5,710.0 705.0,710.1 705.5,709.7 706.0,709.5 706.5,709.8 707.0,709.5 707.5,709.7 708.0,710.1 708.5,709.4 709.0,709.5 709.5,710.2 710.0,709.8 710.5,710.0 711.0,709.5 711.5,709.6 712.0,709.9 712.5,710.5 713.0,710.1 713.5,709.4 714.0,710.1 714.5,710.3 715.0,710.2 715.5,709.5 716.0,709.9 716.5,710.7 717.0,709.6 717.5,710.1 718.0,709.7 718.5,709.5 719.0,709.8 719.5,710.3 720.0,710.4 720.5,709.7 721.0,709.8 721.5,709.7 722.0,709.3 722.5,710.2 723.0,710.5 723.5,710.5 724.0,709.8 724.5,710.4 725.0,710.4 725.5,709.9 726.0,710.0 726.5,709.9 727.0,710.1 727.5,710.6 728.0,709.7 728.5,709.6 729.0,710.3 729.5,710.0 730.0,709.3 730.5,709.6 731.0,709.7 731.5,709.8 732.0,710.1 732.5,710.3 733.0,709.9 733.5,710.0 734.0,709.7 734.5,710.3 735.0,710.5 735.5,709.9 736.0,709.7 736.5,710.7 737.0,710.3 737.5,709.7 738.0,709.4 738.5,709.9 739.0,710.4 739.5,709.8 740.0,709.9 740.5,709.8 741.0,710.2 741.5,710.5 742.0,709.6 742.5,709.9 743.0,709.9 743.5,709.8 744.0,709.6 744.5,710.3 745.0,710.0 745.5,710.2 746.0,710.5 746.5,709.9 747.0,710.2 747.5,709.9 748.0,710.0 748.5,710.1 749.0,709.9 749.5,709.5 750.0,710.5 750.5,710.0 751.0,709.6 751.5,709.2 752.0,710.0 752.5,710.2 753.0,710.3 753.5,710.4 754.0,709.9 754.5,710.2 755.0,709.5 755.5,710.0 756.0,710.3 756.5,709.8 757.0,709.9 757.5,710.0 758.0,710.0 758.5,710.5 759.0,709.6 759.5,710.5 760.0,709.6 760.5,709.8 761.0,709.7 761.5,710.0 762.0,709.8 762.5,710.2 763.0,710.0 763.5,710.8 764.0,710.1 764.5,709.9 765.0,710.1 765.5,710.2 766.0,709.9 766.5,709.6 767.0,709.7 767.5,710.1 768.0,710.3 768.5,710.2 769.0,710.0 769.5,710.2 770.0,709.8 770.5,710.1 771.0,710.5 771.5,710.4 772.0,710.5 772.5,709.9 773.0,710.1 773.5,709.6 774.0,710.3 774.5,709.8 775.0,709.5 775.5,709.8 776.0,710.1 776.5,709.2 777.0,709.5 777.5,710.3 778.0,710.0 778.5,710.0 779.0,709.4 779.5,710.5 780.0,710.3 780.5,710.2 781.0,709.6 781.5,710.2 782.0,710.4 782.5,709.9 783.0,709.9 783.5,709.8 784.0,710.2 784.5,709.9 785.0,709.9 785.5,709.5 786.0,709.4 786.5,710.3 787.0,710.5 787.5,710.3 788.0,710.5 788.5,709.8 789.0,709.9 789.5,710.1 790.0,709.9 790.5,710.5 791.0,709.5 791.5,709.8 792.0,709.8 792.5,709.7 793.0,710.2 793.5,709.3 794.0,710.3 794.5,710.3 795.0,710.1 795.5,710.4 796.0,710.8 796.5,710.0 797.0,710.2 797.5,710.1 798.0,710.1 798.5,709.8 799.0,709.7 799.5,710.1 800.0,709.7 800.5,710.3 801.0,710.2 801.5,709.8 802.0,710.0 802.5,709.9 803.0,709.9 803.5,710.3 804.0,709.9 804.5,710.0 805.0,709.2 805.5,710.1 806.0,709.4 806.5,709.8 807.0,710.4 807.5,710.5 808.0,709.7 808.5,709.4 809.0,710.0 809.5,709.7 810.0,710.0 810.5,709.4 811.0,710.2 811.5,710.4 812.0,709.3 812.5,709.5 813.0,709.5 813.5,710.0 814.0,709.1 814.5,709.8 815.0,709.7 815.5,709.4 816.0,709.9 816.5,709.0 817.0,709.2 817.5,709.4 818.0,709.9 818.5,709.5 819.0,709.3 819.5,709.7 820.0,709.3 820.5,709.2 821.0,709.3 821.5,709.4 822.0,710.2 822.5,708.8 823.0,709.2 823.5,708.9 824.0,708.8 824.5,709.2 825.0,708.8 825.5,708.6 826.0,707.9 826.5,707.4 827.0,707.4 827.5,706.7 828.0,705.8 828.5,705.3 829.0,703.2 829.5,701.1 830.0,698.1 830.5,691.2 831.0,678.4 831.5,652.1 832.0,609.3 832.5,615.0 833.0,648.9 833.5,669.9 834.0,674.3 834.5,666.2 835.0,658.2 835.5,671.3 836.0,688.0 836.5,696.6 837.0,701.6 837.5,703.7 838.0,705.6 838.5,705.9 839.0,706.5 839.5,707.0 840.0,708.1 840.5,707.5 841.0,707.8 841.5,708.1 842.0,708.9 842.5,709.1 843.0,708.8 843.5,709.4 844.0,709.3 844.5,709.7 845.0,709.7 845.5,709.2 846.0,709.5 846.5,709.4 847.0,709.7 847.5,709.6 848.0,709.6 848.5,709.9 849.0,709.7 849.5,709.9 850.0,709.7 850.5,709.7 851.0,710.1 851.5,710.1 852.0,710.2 852.5,710.0 853.0,709.7 853.5,709.9 854.0,709.9 854.5,709.2 855.0,709.4 855.5,710.4 856.0,709.8 856.5,708.9 857.0,709.8 857.5,709.9 858.0,709.5 858.5,710.7 859.0,710.3 859.5,710.2 860.0,709.8 860.5,710.1 861.0,710.2 861.5,710.1 862.0,709.7 862.5,710.0 863.0,710.0 863.5,710.0 864.0,709.6 864.5,710.0 865.0,709.9 865.5,710.0 866.0,710.0 866.5,709.4 867.0,710.2 867.5,710.2 868.0,709.5 868.5,709.9 869.0,709.7 869.5,709.8 870.0,710.3 870.5,710.1 871.0,710.6 871.5,710.0 872.0,709.6 872.5,710.0 873.0,709.1 873.5,710.6 874.0,710.0 874.5,710.1 875.0,710.0 875.5,709.7 876.0,709.9 876.5,709.7 877.0,709.8 877.5,710.1 878.0,709.5 878.5,710.5 879.0,709.6 879.5,710.2 880.0,709.7 880.5,709.5 881.0,710.1 881.5,710.0 882.0,709.9 882.5,709.9 883.0,709.7 883.5,710.1 884.0,709.8 884.5,709.9 885.0,710.3 885.5,709.5 886.0,709.7 886.5,709.7 887.0,709.7 887.5,709.5 888.0,709.8 888.5,710.0 889.0,709.9 889.5,709.4 890.0,710.2 890.5,710.2 891.0,710.0 891.5,709.6 892.0,709.6 892.5,710.6 893.0,710.5 893.5,710.1 894.0,709.6 894.5,710.4 895.0,710.0 895.5,710.5 896.0,709.7 896.5,710.1 897.0,709.8 897.5,710.2 898.0,709.7 898.5,710.2 899.0,709.8 899.5,709.6 900.0,710.1 900.5,710.0 901.0,709.2 901.5,709.9 902.0,710.0 902.5,710.0 903.0,710.6 903.5,709.7 904.0,709.9 904.5,709.3 905.0,709.4 905.5,709.7 906.0,709.9 906.5,709.8 907.0,710.1 907.5,710.2 908.0,710.3 908.5,709.8 909.0,710.1 909.5,709.6 910.0,710.0 910.5,710.1 911.0,709.7 911.5,708.8 912.0,709.7 912.5,710.8 913.0,709.8 913.5,709.7 914.0,709.9 914.5,710.3 915.0,710.0 915.5,709.8 916.0,709.4 916.5,709.8 917.0,709.4 917.5,710.0 918.0,710.4 918.5,710.2 919.0,709.6 919.5,709.5 920.0,709.3 920.5,710.0 921.0,710.0 921.5,710.1 922.0,709.9 922.5,709.4 923.0,709.1 923.5,710.2 924.0,709.5 924.5,710.4 925.0,709.0 925.5,709.3 926.0,709.4 926.5,709.8 927.0,709.9 927.5,709.5 928.0,709.9 928.5,709.2 929.0,709.4 929.5,709.2 930.0,709.4 930.5,709.3 931.0,709.6 931.5,710.7 932.0,709.0 932.5,709.3 933.0,709.6 933.5,709.3 934.0,709.7 934.5,708.8 935.0,709.3 935.5,708.7 936.0,709.1 936.5,708.7 937.0,708.6 937.5,708.1 938.0,707.3 938.5,707.3 939.0,707.4 939.5,706.5 940.0,706.0 940.5,704.1 941.0,703.0 941.5,700.3 942.0,694.0 942.5,684.8 943.0,665.1 943.5,632.3 944.0,620.7 944.5,650.4 945.0,674.1 945.5,683.1 946.0,681.7 946.5,671.7 947.0,665.0 947.5,677.3 948.0,690.8 948.5,699.0 949.0,702.3 949.5,704.2 950.0,705.5 950.5,706.9 951.0,706.5 951.5,707.9 952.0,708.3 952.5,708.8 953.0,708.4 953.5,708.4 954.0,708.9 954.5,709.0 955.0,709.5 955.5,709.2 956.0,709.1 956.5,708.8 957.0,709.3 957.5,709.4 958.0,709.8 958.5,709.5 959.0,710.0 959.5,710.0 960.0,709.3 960.5,709.2 961.0,709.4 961.5,709.5 962.0,709.3 962.5,709.9 963.0,709.9 963.5,710.1 964.0,709.8 964.5,709.5 965.0,709.8 965.5,709.4 966.0,709.8 966.5,709.5 967.0,710.1 967.5,708.8 968.0,710.0 968.5,710.1 969.0,709.7 969.5,709.9 970.0,709.8 970.5,710.2 971.0,710.3 971.5,709.8 972.0,710.3 972.5,709.5 973.0,709.9 973.5,709.9 974.0,709.3 974.5,709.9 975.0,709.5 975.5,710.0 976.0,709.4 976.5,709.1 977.0,709.3 977.5,709.8 978.0,709.9 978.5,709.9 979.0,709.5 979.5,710.0 980.0,709.5 980.5,709.7 981.0,710.1 981.5,709.7 982.0,709.1 982.5,710.0 983.0,709.7 983.5,709.6 984.0,710.1 984.5,709.5 985.0,709.9 985.5,709.7 986.0,710.6 986.5,709.0 987.0,709.7 987.5,709.7 988.0,710.0 988.5,709.4 989.0,709.4 989.5,710.0 990.0,709.4 990.5,709.6 991.0,709.5 991.5,709.6 992.0,709.0 992.5,709.2 993.0,709.4 993.5,709.4 994.0,709.7 994.5,709.4 995.0,709.4 995.5,709.1 996.0,709.5 996.5,708.8 997.0,708.9 997.5,708.4 998.0,708.4 998.5,709.0 999.0,708.5 999.5,707.7 1000.0,708.2 1000.5,707.9 1001.0,707.3 1001.5,707.5 1002.0,706.9 1002.5,706.6 1003.0,706.3 1003.5,705.1 1004.0,704.8 1004.5,703.4 1005.0,702.2 1005.5,701.5 1006.0,699.8 1006.5,698.3 1007.0,698.3 1007.5,698.3 1008.0,698.3 1008.5,698.3 1009.0,698.3 1009.5,698.3 1010.0,699.0 1010.5,700.4 1011.0,700.5 1011.5,702.6 1012.0,702.4 1012.5,703.8 1013.0,703.7 1013.5,705.4 1014.0,705.8 1014.5,706.7 1015.0,707.1 1015.5,707.2 1016.0,708.4 1016.5,708.2 1017.0,707.8 1017.5,708.4 1018.0,707.4 1018.5,708.3 1019.0,709.0 1019.5,708.5 1020.0,708.8 1020.5,708.4 1021.0,709.1 1021.5,708.9 1022.0,708.9 1022.5,709.2 1023.0,709.5 1023.5,709.2 1024.0,708.3 1024.5,709.0 1025.0,709.0 1025.5,708.4 1026.0,708.2 1026.5,708.6 1027.0,708.5 1027.5,708.5 1028.0,708.2 1028.5,708.3 1029.0,708.2 1029.5,707.7 1030.0,707.6 1030.5,706.9 1031.0,705.9 1031.5,705.7 1032.0,704.8 1032.5,703.6 1033.0,698.8 1033.5,693.6 1034.0,681.8 1034.5,659.8 1035.0,632.5 1035.5,641.7 1036.0,668.6 1036.5,684.0 1037.0,690.1 1037.5,689.3 1038.0,680.7 1038.5,670.7 1039.0,679.2 1039.5,691.0 1040.0,699.0 1040.5,702.6 1041.0,704.6 1041.5,705.8 1042.0,707.0 1042.5,707.0 1043.0,707.3 1043.5,707.8 1044.0,708.2 1044.5,707.6 1045.0,708.7 1045.5,708.3 1046.0,708.9 1046.5,709.1 1047.0,708.8 1047.5,708.8 1048.0,708.5 1048.5,708.3 1049.0,707.8 1049.5,708.3 1050.0,708.0 1050.5,707.1 1051.0,707.6 1051.5,707.5 1052.0,706.3 1052.5,705.2 1053.0,702.3 1053.5,697.7 1054.0,690.5 1054.5,680.3 1055.0,678.2 1055.5,686.1 1056.0,694.2 1056.5,698.3 1057.0,699.6 1057.5,697.8 1058.0,694.6 1058.5,694.3 1059.0,697.8 1059.5,701.9 1060.0,705.5 1060.5,707.4 1061.0,707.2 1061.5,707.7 1062.0,707.9 1062.5,708.6 1063.0,708.9 1063.5,708.9 1064.0,709.4 1064.5,708.9 1065.0,709.1 1065.5,708.9 1066.0,709.9 1066.5,709.8 1067.0,709.9 1067.5,709.2 1068.0,710.0 1068.5,709.7 1069.0,709.9 1069.5,709.8 1070.0,709.5 1070.5,709.6 1071.0,709.1 1071.5,709.5 1072.0,709.6 1072.5,709.3 1073.0,709.8 1073.5,710.2 1074.0,709.6 1074.5,709.4 1075.0,709.5 1075.5,709.8 1076.0,710.4 1076.5,709.8 1077.0,709.8 1077.5,709.4 1078.0,709.9 1078.5,710.0 1079.0,709.7 1079.5,709.8 1080.0,709.6 1080.5,710.1 1081.0,710.3 1081.5,710.0 1082.0,710.0 1082.5,709.9 1083.0,709.6 1083.5,709.6 1084.0,709.7 1084.5,709.9 1085.0,709.8 1085.5,710.2 1086.0,710.1 1086.5,710.4 1087.0,710.1 1087.5,709.8 1088.0,709.9 1088.5,709.3 1089.0,710.4 1089.5,709.6 1090.0,709.7 1090.5,710.5 1091.0,709.5 1091.5,709.6 1092.0,709.8 1092.5,709.6 1093.0,709.9 1093.5,709.9 1094.0,710.1 1094.5,709.8 1095.0,710.1 1095.5,709.7 1096.0,710.1 1096.5,710.2 1097.0,709.2 1097.5,709.8 1098.0,709.9 1098.5,709.2 1099.0,708.8 1099.5,709.9 1100.0,709.6 1100.5,710.1 1101.0,709.8 1101.5,709.8 1102.0,709.7 1102.5,709.8 1103.0,709.4 1103.5,709.6 1104.0,710.0 1104.5,709.6 1105.0,709.9 1105.5,709.7 1106.0,709.6 1106.5,709.3 1107.0,709.9 1107.5,709.3 1108.0,709.7 1108.5,709.0 1109.0,709.6 1109.5,709.6 1110.0,709.2 1110.5,708.8 1111.0,709.2 1111.5,709.2 1112.0,708.9 1112.5,708.7 1113.0,709.1 1113.5,708.6 1114.0,708.2 1114.5,708.4 1115.0,707.7 1115.5,707.1 1116.0,707.2 1116.5,706.3 1117.0,706.3 1117.5,706.3 1118.0,706.3 1118.5,706.3 1119.0,706.3 1119.5,706.3 1120.0,706.3 1120.5,706.3 1121.0,706.3 1121.5,706.6 1122.0,706.7 1122.5,707.7 1123.0,707.1 1123.5,708.0 1124.0,707.7 1124.5,708.5 1125.0,709.0 1125.5,708.4 1126.0,709.5 1126.5,708.7 1127.0,708.9 1127.5,709.4 1128.0,709.0 1128.5,709.8 1129.0,709.6 1129.5,708.6 1130.0,709.1 1130.5,709.3 1131.0,709.8 1131.5,709.3 1132.0,709.4 1132.5,709.9 1133.0,709.4 1133.5,709.8 1134.0,709.3 1134.5,710.1 1135.0,710.3 1135.5,709.4 1136.0,709.0 1136.5,709.2 1137.0,710.2 1137.5,709.6 1138.0,710.2 1138.5,709.4 1139.0,709.5 1139.5,709.8 1140.0,710.2 1140.5,709.8 1141.0,709.5 1141.5,710.0 1142.0,709.9 1142.5,710.1 1143.0,709.8 1143.5,709.7 1144.0,709.9 1144.5,709.0 1145.0,710.0 1145.5,710.3 1146.0,710.1 1146.5,709.6 1147.0,709.4 1147.5,710.4 1148.0,709.7 1148.5,709.8 1149.0,710.0 1149.5,709.7 1150.0,709.9 1150.5,710.4 1151.0,709.8 1151.5,710.6 1152.0,710.1 1152.5,710.0 1153.0,710.3 1153.5,710.2 1154.0,710.3 1154.5,710.1 1155.0,709.7 1155.5,710.5 1156.0,709.9 1156.5,709.7 1157.0,710.2 1157.5,710.2 1158.0,709.9 1158.5,710.0 1159.0,710.1 1159.5,710.6 1160.0,709.9" fill="none" stroke="#000" stroke-width="6.0" stroke-linejoin="round"/>
<polyline points="86.6,1085.1 87.6,1086.7 88.6,1089.1 89.6,1087.5 90.6,1086.5 91.6,1089.6 92.6,1089.6 93.6,1087.5 94.6,1088.6 95.6,1086.5 96.6,1086.6 97.6,1087.2 98.6,1084.9 99.6,1088.7 100.6,1087.8 101.6,1086.9 102.6,1088.2 103.6,1088.3 104.6,1086.3 105.6,1086.7 106.6,1086.2 107.6,1091.0 108.6,1084.3 109.6,1087.8 110.6,1089.8 111.6,1085.6 112.6,1085.9 113.6,1085.8 114.6,1084.0 115.6,1090.5 116.6,1087.4 117.6,1085.5 118.6,1086.5 119.6,1088.2 120.6,1087.1 121.6,1085.9 122.6,1089.0 123.6,1085.9 124.6,1087.0 125.6,1088.2 126.6,1086.3 127.6,1088.0 128.6,1086.4 129.6,1093.6 130.6,1087.0 131.6,1089.3 132.6,1086.0 133.6,1085.4 134.6,1087.6 135.6,1087.1 136.6,1087.1 137.6,1087.8 138.6,1089.7 139.6,1092.0 140.6,1092.2 141.6,1088.0 142.6,1091.8 143.6,1091.5 144.6,1086.5 145.6,1086.8 146.6,1087.6 147.6,1092.0 148.6,1087.5 149.6,1087.3 150.6,1090.8 151.6,1087.4 152.6,1087.5 153.6,1089.1 154.6,1088.2 155.6,1082.7 156.6,1085.2 157.6,1089.3 158.6,1084.8 159.6,1090.4 160.6,1087.7 161.6,1088.3 162.6,1088.4 163.6,1084.1 164.6,1086.3 165.6,1085.6 166.6,1088.3 167.6,1091.0 168.6,1087.4 169.6,1088.0 170.6,1083.8 171.6,1087.1 172.6,1087.3 173.6,1087.5 174.6,1089.1 175.6,1090.8 176.6,1087.8 177.6,1088.7 178.6,1084.6 179.6,1089.1 180.6,1087.9 181.6,1084.2 182.6,1088.5 183.6,1086.5 184.6,1089.9 185.6,1088.8 186.6,1088.0 187.6,1091.3 188.6,1087.5 189.6,1087.1 190.6,1087.8 191.6,1088.0 192.6,1086.0 193.6,1088.9 194.6,1088.5 195.6,1086.6 196.6,1084.5 197.6,1090.0 198.6,1090.2 199.6,1089.4 200.6,1089.5 201.6,1091.1 202.6,1088.1 203.6,1090.7 204.6,1087.1 205.6,1085.6 206.6,1087.3 207.6,1086.5 208.6,1088.1 209.6,1090.6 210.6,1087.7 211.6,1088.9 212.6,1090.9 213.6,1090.1 214.6,1086.6 215.6,1084.9 216.6,1090.3 217.6,1083.8 218.6,1082.2 219.6,1081.6 220.6,1087.7 221.6,1082.3 222.6,1084.4 223.6,1084.4 224.6,1087.0 225.6,1084.5 226.6,1085.8 227.6,1083.6 228.6,1088.4 229.6,1078.9 230.6,1083.0 231.6,1074.5 232.6,1081.5 233.6,1082.7 234.6,1075.3 235.6,1077.6 236.6,1080.6 237.6,1081.6 238.6,1081.4 239.6,1082.1 240.6,1082.5 241.6,1084.7 242.6,1078.7 243.6,1080.9 244.6,1070.1 245.6,1076.4 246.6,1078.2 247.6,1079.2 248.6,1076.9 249.6,1073.1 250.6,1074.6 251.6,1072.6 252.6,1065.9 253.6,1071.2 254.6,1070.6 255.6,1073.3 256.6,1065.2 257.6,1058.0 258.6,1062.1 259.6,1070.6 260.6,1058.7 261.6,1062.2 262.6,1068.7 263.6,1062.5 264.6,1063.8 265.6,1062.3 266.6,1058.4 267.6,1061.9 268.6,1063.2 269.6,1061.1 270.6,1049.9 271.6,1061.6 272.6,1056.4 273.6,1057.0 274.6,1063.8 275.6,1062.3 276.6,1055.7 277.6,1059.4 278.6,1056.3 279.6,1052.4 281.2,1052.0 283.6,1027.0 287.0,996.0 287.9,964.7 289.9,952.0 289.9,840.0 290.5,832.0 291.1,806.3 291.3,815.0 294.9,852.4 294.9,889.8 296.1,894.8 296.1,977.0 297.4,989.6 297.4,1027.0 299.9,1052.0 302.4,1075.0 303.6,1079.8 304.6,1072.6 305.6,1081.8 306.6,1081.7 307.6,1085.3 308.6,1080.7 309.6,1087.7 310.6,1080.0 311.6,1088.9 312.6,1090.2 313.6,1083.8 314.6,1091.2 315.6,1085.2 316.6,1089.6 317.6,1089.7 318.6,1088.2 319.6,1093.5 320.6,1090.5 321.6,1089.4 322.6,1087.2 323.6,1091.4 324.6,1086.9 325.6,1089.4 326.6,1083.2 327.6,1090.5 328.6,1091.2 329.6,1089.5 330.6,1088.1 331.6,1089.1 332.6,1086.1 333.6,1089.1 334.6,1089.7 335.6,1088.3 336.6,1086.9 337.6,1091.8 338.6,1089.5 339.6,1087.1 340.6,1087.8 341.6,1086.1 342.6,1085.8 343.6,1085.6 344.6,1087.4 345.6,1089.5 346.6,1090.1 347.6,1088.6 348.6,1090.5 349.6,1089.8 350.6,1086.9 351.6,1087.4 352.6,1089.3 353.6,1089.9 354.6,1090.6 355.6,1086.5 356.6,1085.5 357.6,1092.1 358.6,1088.3 359.6,1090.4 360.6,1088.8 361.6,1086.4 362.6,1091.0 363.6,1089.4 364.6,1091.1 365.6,1089.6 366.6,1086.9 367.6,1088.5 368.6,1090.1 369.6,1087.3 370.6,1088.7 371.6,1090.2 372.6,1086.2 373.6,1087.5 374.6,1088.2 375.6,1089.3 376.6,1087.3 377.6,1086.0 378.6,1087.6 379.6,1085.1 380.6,1085.9 381.6,1084.5 382.6,1081.4 383.6,1078.1 384.6,1062.6 385.6,1013.5 386.6,940.4 387.6,904.5 388.6,936.4 389.6,1003.8 390.6,1054.3 391.6,1073.4 392.6,1080.3 393.6,1081.6 394.6,1084.8 395.6,1086.0 396.6,1085.2 397.6,1086.6 398.6,1088.2 399.6,1089.9 400.6,1087.5 401.6,1091.2 402.6,1089.8 403.6,1089.7 404.6,1089.3 405.6,1088.6 406.6,1087.6 407.6,1088.5 408.6,1088.7 409.6,1088.9 410.6,1091.1 411.6,1091.8 412.6,1089.6 413.6,1090.3 414.6,1087.7 415.6,1085.7 416.6,1088.6 417.6,1089.1 418.6,1090.8 419.6,1092.3 420.6,1089.0 421.6,1090.5 422.6,1090.1 423.6,1088.7 424.6,1089.5 425.6,1088.6 426.6,1090.1 427.6,1085.9 428.6,1083.6 429.6,1086.5 430.6,1086.6 431.6,1084.7 432.6,1076.1 433.6,1058.5 434.6,1015.7 435.6,976.9 436.6,981.8 437.6,1015.9 438.6,1055.4 439.6,1072.7 440.6,1080.1 441.6,1086.0 442.6,1086.2 443.6,1083.3 444.6,1088.9 445.6,1085.6 446.6,1087.0 447.6,1087.6 448.6,1090.7 449.6,1087.8 450.6,1089.1 451.6,1087.5 452.6,1088.3 453.6,1085.4 454.6,1087.2 455.6,1086.1 456.6,1085.1 457.6,1086.5 458.6,1086.9 459.6,1085.2 460.6,1082.9 461.6,1082.6 462.6,1077.2 463.6,1074.0 464.6,1060.9 465.6,1019.6 466.6,926.3 467.6,769.9 468.6,770.9 469.6,833.5 470.6,939.1 471.6,1016.5 472.6,1060.3 473.6,1074.0 474.6,1079.2 475.6,1080.4 476.6,1083.0 477.6,1084.0 478.6,1086.7 479.6,1087.3 480.6,1088.5 481.6,1087.4 482.6,1084.9 483.6,1086.6 484.6,1087.6 485.6,1088.8 486.6,1086.4 487.6,1088.3 488.6,1088.8 489.6,1088.0 490.6,1088.6 491.6,1092.0 492.6,1089.0 493.6,1091.7 494.6,1089.4 495.6,1088.2 496.6,1089.9 497.6,1088.7 498.6,1089.2 499.6,1086.3 500.6,1089.8 501.6,1088.6 502.6,1090.9 503.6,1089.6 504.6,1088.9 505.6,1088.1 506.6,1089.5 507.6,1089.0 508.6,1088.5 509.6,1091.9 510.6,1089.3 511.6,1090.7 512.5,1091.5 513.5,1090.1 514.5,1090.4 515.5,1090.2 516.5,1090.8 517.5,1090.4 518.5,1090.3 519.5,1089.8 520.5,1089.0 521.5,1089.1 522.5,1088.9 523.5,1089.9 524.5,1091.3 525.5,1088.5 526.5,1088.9 527.5,1088.5 528.5,1089.6 529.5,1091.0 530.5,1089.3 531.5,1090.1 532.5,1086.9 533.5,1089.6 534.5,1090.4 535.5,1089.0 536.5,1087.8 537.5,1090.3 538.5,1089.7 539.5,1092.0 540.5,1089.1 541.5,1089.6 542.5,1089.3 543.5,1089.9 544.5,1087.6 545.5,1091.5 546.5,1090.6 547.5,1089.6 548.5,1089.4 549.5,1090.5 550.5,1090.3 551.5,1089.4 552.5,1089.7 553.5,1090.3 554.5,1089.4 555.5,1089.5 556.5,1089.4 557.5,1089.5 558.5,1088.4 559.5,1088.8 560.5,1090.3 561.5,1090.8 562.5,1089.9 563.5,1085.8 564.5,1088.2 565.5,1090.4 566.5,1091.9 567.5,1091.4 568.5,1089.7 569.5,1089.6 570.5,1089.5 571.5,1092.0 572.5,1090.2 573.5,1088.9 574.5,1091.1 575.5,1090.9 576.5,1087.7 577.5,1089.3 578.5,1091.2 579.5,1091.0 580.5,1088.6 581.5,1090.0 582.5,1091.0 583.5,1090.4 584.5,1088.9 585.5,1089.8 586.5,1090.8 587.5,1090.6 588.5,1089.0 589.5,1092.7 590.5,1090.3 591.5,1088.4 592.5,1089.7 593.5,1087.1 594.5,1089.4 595.5,1090.1 596.5,1092.7 597.5,1090.3 598.5,1090.5 599.5,1090.9 600.5,1090.4 601.5,1089.5 602.5,1091.6 603.5,1090.7 604.5,1091.8 605.5,1091.3 606.5,1089.2 607.5,1089.7 608.5,1089.7 609.5,1089.8 610.5,1090.7 611.5,1090.0 612.5,1089.4 613.5,1091.7 614.5,1091.6 615.5,1090.2 616.5,1089.1 617.5,1089.6 618.5,1089.4 619.5,1089.3 620.5,1089.2 621.5,1090.5 622.5,1090.5 623.5,1090.7 624.5,1089.3 625.5,1090.5 626.5,1092.3 627.5,1090.5 628.5,1089.9 629.5,1093.0 630.5,1090.6 631.5,1089.6 632.5,1091.1 633.5,1089.5 634.5,1089.9 635.5,1091.3 636.5,1089.7 637.5,1088.8 638.5,1091.0 639.5,1091.1 640.5,1088.9 641.5,1089.9 642.5,1091.3 643.5,1090.5 644.5,1091.1 645.5,1090.1 646.5,1089.6 647.5,1089.7 648.5,1089.9 649.5,1090.4 650.5,1087.6 651.5,1088.3 652.5,1090.2 653.5,1090.8 654.5,1089.5 655.5,1090.1 656.5,1089.0 657.5,1088.6 658.5,1090.1 659.5,1089.8 660.5,1089.2 661.5,1088.3 662.5,1089.4 663.5,1088.9 664.5,1088.2 665.5,1087.4 666.5,1084.8 667.5,1079.0 668.5,1064.0 669.5,1045.0 670.5,1035.9 671.5,1042.1 672.5,1053.2 673.5,1069.3 674.5,1079.1 675.5,1086.9 676.5,1086.2 677.5,1088.2 678.5,1090.6 679.5,1089.4 680.5,1090.3 681.5,1090.4 682.5,1089.4 683.5,1090.8 684.5,1089.2 685.5,1089.8 686.5,1092.3 687.5,1090.1 688.5,1090.6 689.5,1089.3 690.5,1091.6 691.5,1089.5 692.5,1089.7 693.5,1089.8 694.5,1089.5 695.5,1089.0 696.5,1090.2 697.5,1090.0 698.5,1090.4 699.5,1089.5 700.5,1089.6 701.5,1090.2 702.5,1090.5 703.5,1089.6 704.5,1090.5 705.5,1090.3 706.5,1091.6 707.5,1091.2 708.5,1091.0 709.5,1091.5 710.5,1089.9 711.5,1091.9 712.5,1090.7 713.5,1090.1 714.5,1091.0 715.5,1089.5 716.5,1092.3 717.5,1090.8 718.5,1089.2 719.5,1089.5 720.5,1090.1 721.5,1090.1 722.5,1091.1 723.5,1091.5 724.5,1091.6 725.5,1091.2 726.5,1089.7 727.5,1091.7 728.5,1091.8 729.5,1088.8 730.5,1090.1 731.5,1090.3 732.5,1089.9 733.5,1091.7 734.5,1091.1 735.5,1090.7 736.5,1089.5 737.5,1088.7 738.5,1089.8 739.5,1089.9 740.5,1089.8 741.5,1088.6 742.5,1089.2 743.5,1090.3 744.5,1091.0 745.5,1090.2 746.5,1090.5 747.5,1090.6 748.5,1090.6 749.5,1091.9 750.5,1089.9 751.5,1090.9 752.5,1089.4 753.5,1091.9 754.5,1091.4 755.5,1091.7 756.5,1090.8 757.5,1090.6 758.5,1089.5 759.5,1091.0 760.5,1092.1 761.5,1088.1 762.5,1092.5 763.5,1090.0 764.5,1091.2 765.5,1090.0 766.5,1090.6 767.5,1091.6 768.5,1090.6 769.5,1092.5 770.5,1090.8 771.5,1091.4 772.5,1090.2 773.5,1090.3 774.5,1090.4 775.5,1091.2 776.5,1092.4 777.5,1090.8 778.5,1089.5 779.5,1090.1 780.5,1089.4 781.5,1091.1 782.5,1090.7 783.5,1089.6 784.5,1090.2 785.5,1091.4 786.5,1090.9 787.5,1089.8 788.5,1090.9 789.5,1090.3 790.5,1088.8 791.5,1088.2 792.5,1087.3 793.5,1080.4 794.5,1078.2 795.5,1076.2 796.5,1077.2 797.5,1078.7 798.5,1081.9 799.5,1084.8 800.5,1087.4 801.5,1089.6 802.5,1090.2 803.5,1088.7 804.5,1090.7 805.5,1091.7 806.5,1091.4 807.5,1090.7 808.5,1088.8 809.5,1091.2 810.5,1091.3 811.5,1092.1 812.5,1089.7 813.5,1090.4 814.5,1090.1 815.5,1090.3 816.5,1088.9 817.5,1090.0 818.5,1090.0 819.5,1090.0 820.5,1091.8 821.5,1089.5 822.5,1089.5 823.5,1090.8 824.5,1088.8 825.5,1090.0 826.5,1088.4 827.5,1085.2 828.5,1079.4 829.5,1067.1 830.5,1046.3 831.5,1031.7 832.5,1034.1 833.5,1046.0 834.5,1055.2 835.5,1068.2 836.5,1079.1 837.5,1084.0 838.5,1087.6 839.5,1088.7 840.5,1088.1 841.5,1088.1 842.5,1091.3 843.5,1090.0 844.5,1090.3 845.5,1089.9 846.5,1092.2 847.5,1090.5 848.5,1089.0 849.5,1091.3 850.5,1089.9 851.5,1091.3 852.5,1090.8 853.5,1092.2 854.5,1091.4 855.5,1090.6 856.5,1092.4 857.5,1093.7 858.5,1090.5 859.5,1092.1 860.5,1091.4 861.5,1091.5 862.5,1089.9 863.5,1090.2 864.5,1092.5 865.5,1091.3 866.5,1090.6 867.5,1092.9 868.5,1092.4 869.5,1091.9 870.5,1090.2 871.5,1091.2 872.5,1092.6 873.5,1089.2 874.5,1089.6 875.5,1090.4 876.5,1092.2 877.5,1091.5 878.5,1091.7 879.5,1091.4 880.5,1091.3 881.5,1092.4 882.5,1094.8 883.5,1091.7 884.5,1092.6 885.5,1090.8 886.5,1092.9 887.5,1091.4 888.5,1091.5 889.5,1090.8 890.5,1090.5 891.5,1090.8 892.5,1090.3 893.5,1090.0 894.5,1093.1 895.5,1091.8 896.5,1092.3 897.5,1091.8 898.5,1089.9 899.5,1091.4 900.5,1090.5 901.5,1090.5 902.5,1091.2 903.5,1091.5 904.5,1091.4 905.5,1091.5 906.5,1091.1 907.5,1091.4 908.5,1092.6 909.5,1093.5 910.5,1092.5 911.5,1091.1 912.5,1091.7 913.5,1092.3 914.5,1092.3 915.5,1092.5 916.5,1092.6 917.5,1091.7 918.5,1091.0 919.5,1089.8 920.5,1092.4 921.5,1091.9 922.5,1090.4 923.5,1091.3 924.5,1090.8 925.5,1090.8 926.5,1092.9 927.5,1090.8 928.5,1093.5 929.5,1090.9 930.5,1090.2 931.5,1091.0 932.5,1093.2 933.5,1090.5 934.5,1090.9 935.5,1087.9 936.5,1090.3 937.5,1087.8 938.5,1088.0 939.5,1086.8 940.5,1077.6 941.5,1061.4 942.5,1036.2 943.5,1026.9 944.5,1038.2 945.5,1050.0 946.5,1055.9 947.5,1067.9 948.5,1078.4 949.5,1084.1 950.5,1088.6 951.5,1089.3 952.5,1090.3 953.5,1091.4 954.5,1091.4 955.5,1089.9 956.5,1091.2 957.5,1091.3 958.5,1090.9 959.5,1088.9 960.5,1090.4 961.5,1091.2 962.5,1092.1 963.5,1091.0 964.5,1090.0 965.5,1092.8 966.5,1091.4 967.5,1091.0 968.5,1092.0 969.5,1092.2 970.5,1091.4 971.5,1090.9 972.5,1090.9 973.5,1092.3 974.5,1091.4 975.5,1092.0 976.5,1089.6 977.5,1091.1 978.5,1091.2 979.5,1091.1 980.5,1089.6 981.5,1091.1 982.5,1093.1 983.5,1091.9 984.5,1091.1 985.5,1090.9 986.5,1090.2 987.5,1091.8 988.5,1090.8 989.5,1091.2 990.5,1092.5 991.5,1092.5 992.5,1092.2 993.5,1089.9 994.5,1091.0 995.5,1092.7 996.5,1090.3 997.5,1092.7 998.5,1091.3 999.5,1092.2 1000.5,1090.7 1001.5,1089.7 1002.5,1089.2 1003.5,1089.7 1004.5,1082.5 1005.5,1075.3 1006.5,1074.3 1007.5,1078.0 1008.5,1081.7 1009.5,1082.6 1010.5,1085.9 1011.5,1089.3 1012.5,1090.4 1013.5,1088.5 1014.5,1091.4 1015.5,1091.2 1016.5,1091.1 1017.5,1091.9 1018.5,1092.1 1019.5,1091.6 1020.5,1092.9 1021.5,1093.5 1022.5,1091.6 1023.5,1090.9 1024.5,1089.9 1025.5,1091.6 1026.5,1089.1 1027.5,1092.3 1028.5,1091.3 1029.5,1089.2 1030.5,1089.1 1031.5,1083.7 1032.5,1072.9 1033.5,1056.6 1034.5,1045.4 1035.5,1053.8 1036.5,1063.9 1037.5,1067.6 1038.5,1071.0 1039.5,1081.5 1040.5,1087.2 1041.5,1088.3 1042.5,1088.9 1043.5,1088.3 1044.5,1090.7 1045.5,1088.0 1046.5,1090.0 1047.5,1088.4 1048.5,1090.1 1049.5,1091.2 1050.5,1089.1 1051.5,1088.0 1052.5,1083.9 1053.5,1075.9 1054.5,1064.7 1055.5,1063.7 1056.5,1070.3 1057.5,1073.8 1058.5,1075.1 1059.5,1081.6 1060.5,1086.4 1061.5,1089.4 1062.5,1089.6 1063.5,1090.6 1064.5,1089.9 1065.5,1089.6 1066.5,1091.0 1067.5,1091.0 1068.5,1090.4 1069.5,1090.5 1070.5,1092.1 1071.5,1091.3 1072.5,1090.2 1073.5,1093.9 1074.5,1090.1 1075.5,1092.1 1076.5,1090.9 1077.5,1092.6 1078.5,1092.0 1079.5,1093.0 1080.5,1091.9 1081.5,1091.2 1082.5,1093.4 1083.5,1091.9 1084.5,1091.8 1085.5,1091.8 1086.5,1091.3 1087.5,1092.4 1088.5,1093.7 1089.5,1093.5 1090.5,1092.3 1091.5,1092.7 1092.5,1092.8 1093.5,1091.4 1094.5,1093.5 1095.5,1092.3 1096.5,1090.2 1097.5,1092.7 1098.5,1091.1 1099.5,1092.4 1100.5,1092.7 1101.5,1091.7 1102.5,1092.3 1103.5,1093.4 1104.5,1090.6 1105.5,1090.1 1106.5,1091.9 1107.5,1091.7 1108.5,1094.0 1109.5,1092.8 1110.5,1092.2 1111.5,1091.2 1112.5,1088.6 1113.5,1088.0 1114.5,1087.5 1115.5,1087.9 1116.5,1086.9 1117.5,1087.9 1118.5,1087.8 1119.5,1087.1 1120.5,1088.3 1121.5,1088.8 1122.5,1091.9 1123.5,1089.3 1124.5,1092.3 1125.5,1092.6 1126.5,1089.9 1127.5,1091.6 1128.5,1093.2 1129.5,1091.2 1130.5,1091.6 1131.5,1092.1 1132.5,1093.5 1133.5,1092.8 1134.5,1091.5 1135.5,1090.8 1136.5,1090.7 1137.5,1092.6 1138.5,1090.1 1139.5,1091.7 1140.5,1092.8 1141.5,1091.1 1142.5,1091.9 1143.5,1092.2 1144.5,1093.0 1145.5,1090.9 1146.5,1092.4 1147.5,1092.2 1148.5,1092.4 1149.5,1090.7 1150.5,1092.8 1151.5,1091.5 1152.5,1092.2 1153.5,1091.5 1154.5,1094.3 1155.5,1092.4 1156.5,1094.5 1157.5,1091.7 1158.5,1092.1 1159.5,1093.8" fill="none" stroke="#00f" stroke-width="5.0" stroke-linejoin="round"/>
<text transform="translate(243.15,113.20) rotate(-90) scale(0.9382,1)" font-family="Liberation Serif, serif" font-weight="bold" font-size="45.19" stroke="#000" stroke-width="0.5">(002)</text>
<text transform="translate(614.85,284.19) rotate(-90) scale(0.9359,1)" font-family="Liberation Serif, serif" font-weight="bold" font-size="45.04" stroke="#000" stroke-width="0.5">(001)</text>
<text transform="translate(357.19,612.43) rotate(-90) scale(0.9402,1)" font-family="Liberation Serif, serif" font-weight="bold" font-size="40.59" stroke="#000" stroke-width="0.5">(100)</text>
<text transform="translate(442.29,558.33) rotate(-90) scale(0.9245,1)" font-family="Liberation Serif, serif" font-weight="bold" font-size="41.33" stroke="#000" stroke-width="0.5">(002)</text>
<text transform="translate(506.59,541.32) rotate(-90) scale(0.9166,1)" font-family="Liberation Serif, serif" font-weight="bold" font-size="41.48" stroke="#000" stroke-width="0.5">(101)</text>
<text transform="translate(664.03,657.62) rotate(-90) scale(0.9026,1)" font-family="Liberation Serif, serif" font-weight="bold" font-size="36.59" stroke="#000" stroke-width="0.5">(102)</text>
<text transform="translate(825.00,649.83) rotate(-90) scale(0.9567,1)" font-family="Liberation Serif, serif" font-weight="bold" font-size="40.00" stroke="#000" stroke-width="0.5">(110)</text>
<text transform="translate(929.20,677.82) rotate(-90) scale(0.9529,1)" font-family="Liberation Serif, serif" font-weight="bold" font-size="39.85" stroke="#000" stroke-width="0.5">(103)</text>
<text transform="translate(1021.36,687.31) rotate(-90) scale(0.9662,1)" font-family="Liberation Serif, serif" font-weight="bold" font-size="44.15" stroke="#000" stroke-width="0.5">(110)</text>
<text transform="translate(1053.39,620.11) rotate(-90) scale(0.9284,1)" font-family="Liberation Serif, serif" font-weight="bold" font-size="40.59" stroke="#000" stroke-width="0.5">(200)</text>
<text transform="translate(1085.39,689.94) rotate(-90) scale(0.9488,1)" font-family="Liberation Serif, serif" font-weight="bold" font-size="40.59" stroke="#000" stroke-width="0.5">(112)</text>
<text transform="translate(40.30,749.18) rotate(-90) scale(0.9646,1)" font-family="Liberation Serif, serif" font-weight="bold" font-size="58.00" stroke="#000" stroke-width="0.5">Intensity (a.u.)</text>
<text transform="translate(828.20,86.10) scale(0.9593,1)" font-family="Liberation Serif, serif" font-size="53.44" fill="#700">(a) TRGO</text>
<text transform="translate(828.65,86.10) scale(0.9593,1)" font-family="Liberation Serif, serif" font-size="53.44" fill="#f00">(a) TRGO</text>
<text transform="translate(829.40,86.10) scale(0.9593,1)" font-family="Liberation Serif, serif" font-size="53.44" fill="#f00">(a) TRGO</text>
<text transform="translate(830.15,86.10) scale(0.9593,1)" font-family="Liberation Serif, serif" font-size="53.44" fill="#f00">(a) TRGO</text>
<text transform="translate(823.79,453.40) scale(0.9827,1)" font-family="Liberation Serif, serif" font-size="52.52" fill="#000">(b) ZnO</text>
<text transform="translate(824.24,453.40) scale(0.9827,1)" font-family="Liberation Serif, serif" font-size="52.52" fill="#000">(b) ZnO</text>
<text transform="translate(824.99,453.40) scale(0.9827,1)" font-family="Liberation Serif, serif" font-size="52.52" fill="#000">(b) ZnO</text>
<text transform="translate(825.74,453.40) scale(0.9827,1)" font-family="Liberation Serif, serif" font-size="52.52" fill="#000">(b) ZnO</text>
<text transform="translate(822.90,871.30) scale(0.9618,1)" font-family="Liberation Serif, serif" font-size="53.28" fill="#007">(c) TRGO/ZnO</text>
<text transform="translate(823.35,871.30) scale(0.9618,1)" font-family="Liberation Serif, serif" font-size="53.28" fill="#00f">(c) TRGO/ZnO</text>
<text transform="translate(824.10,871.30) scale(0.9618,1)" font-family="Liberation Serif, serif" font-size="53.28" fill="#00f">(c) TRGO/ZnO</text>
<text transform="translate(824.85,871.30) scale(0.9618,1)" font-family="Liberation Serif, serif" font-size="53.28" fill="#00f">(c) TRGO/ZnO</text>
<text transform="translate(61.49,1166.35) scale(1.0803,1)" font-family="Liberation Serif, serif" font-weight="bold" font-size="45.19" stroke="#000" stroke-width="0.5">15</text>
<text transform="translate(329.54,1166.35) scale(1.1137,1)" font-family="Liberation Serif, serif" font-weight="bold" font-size="45.19" stroke="#000" stroke-width="0.5">30</text>
<text transform="translate(599.63,1166.35) scale(1.0428,1)" font-family="Liberation Serif, serif" font-weight="bold" font-size="45.19" stroke="#000" stroke-width="0.5">45</text>
<text transform="translate(866.35,1166.35) scale(1.0722,1)" font-family="Liberation Serif, serif" font-weight="bold" font-size="45.19" stroke="#000" stroke-width="0.5">60</text>
<text transform="translate(1134.33,1166.35) scale(1.0734,1)" font-family="Liberation Serif, serif" font-weight="bold" font-size="45.19" stroke="#000" stroke-width="0.5">75</text>
<text x="515.9" y="1231.2" font-family="Liberation Serif, serif" font-weight="bold" font-size="52.1" stroke="#000" stroke-width="0.5">2θ (deg.)</text>
</svg>
</body></html>
